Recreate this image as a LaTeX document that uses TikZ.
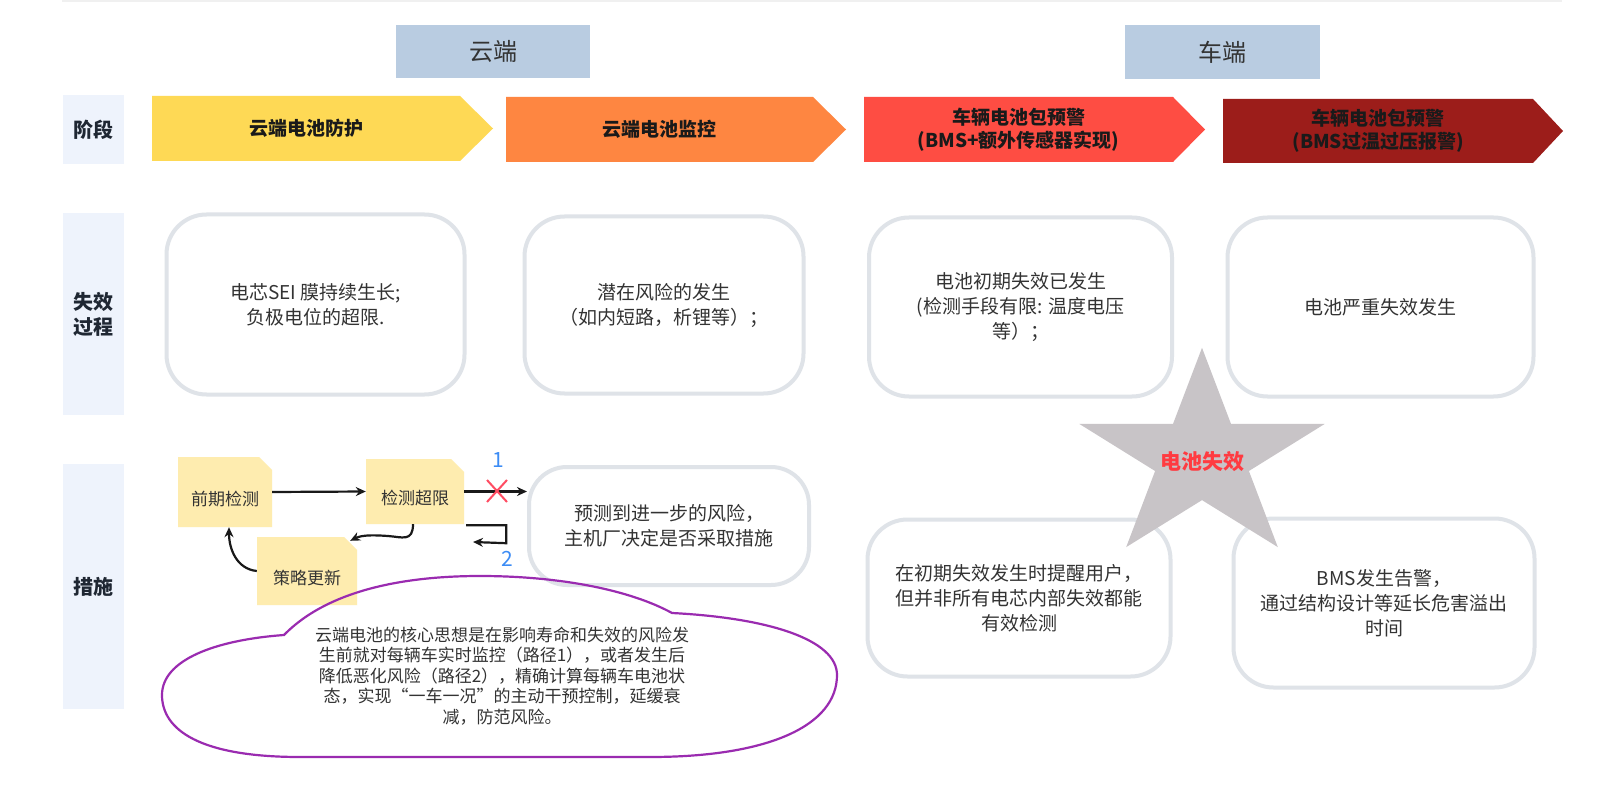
\documentclass[tikz,border=0pt]{standalone}
\usepackage{fontspec}
\setmainfont{Noto Sans CJK SC}
\usetikzlibrary{arrows.meta}
\definecolor{labelfill}{HTML}{EEF3FC}
\definecolor{labeltext}{HTML}{1F2733}
\definecolor{hdrfill}{HTML}{B9CCE1}
\definecolor{textgray}{HTML}{333333}
\definecolor{phasetext}{HTML}{1A1A1A}
\definecolor{cyellow}{HTML}{FED955}
\definecolor{corange}{HTML}{FE8641}
\definecolor{cred}{HTML}{FE4D43}
\definecolor{cdark}{HTML}{9C1D1A}
\definecolor{boxborder}{HTML}{DFE3E8}
\definecolor{notefill}{HTML}{FEECAF}
\definecolor{cpurple}{HTML}{9A2BB0}
\definecolor{cblue}{HTML}{3C8CF5}
\definecolor{xred}{HTML}{FF4D63}
\definecolor{stargray}{HTML}{C8C4C7}
\definecolor{starred}{HTML}{FF3B41}
\definecolor{topline}{HTML}{F0F0F0}
\newcommand{\notetxt}[1]{\raisebox{-13pt}[0pt][0pt]{#1}}
\begin{document}
\begin{tikzpicture}[x=1pt,y=-1pt,
  lbl/.style={fill=labelfill, text=labeltext, font=\bfseries\fontsize{20}{25}\selectfont, align=center, inner sep=0, minimum width=61pt},
  hdr/.style={fill=hdrfill, text=textgray, font=\fontsize{24}{28}\selectfont, inner sep=0},
  phase/.style={text=phasetext, font=\bfseries\fontsize{19}{23}\selectfont, align=center, inner sep=0},
  rbox/.style={draw=boxborder, line width=4pt, rounded corners=40pt, fill=white, align=center, text=textgray, font=\fontsize{19}{25}\selectfont, inner sep=0},
  notebox/.style={inner sep=0, text=textgray, font=\fontsize{17}{20}\selectfont,
    path picture={\fill[notefill] (path picture bounding box.south west) -- (path picture bounding box.north west) -- ([xshift=-13pt]path picture bounding box.north east) -- ([yshift=-13pt]path picture bounding box.north east) -- (path picture bounding box.south east) -- cycle;}},
  arr/.style={draw=black!90, line width=2.2pt, -{Stealth[length=10pt,width=9pt]}},
  num/.style={text=cblue, font=\fontsize{21}{24}\selectfont, inner sep=0}]
\useasboundingbox (0,0) rectangle (1622,802);
\fill[white] (0,0) rectangle (1622,802);
\draw[topline, line width=2pt] (62,1) -- (1562,1);

% headers
\node[hdr, minimum width=194pt, minimum height=53pt] (cloudhdr) at (493,51.5) {云端};
\node[hdr, minimum width=195pt, minimum height=54pt] (carhdr) at (1222.5,52) {车端};

% row labels
\node[lbl, minimum height=69pt] (lab1) at (93.5,129.5) {阶段};
\node[lbl, minimum height=202pt] (lab2) at (93.5,314) {失效\\过程};
\node[lbl, minimum height=245pt] (lab3) at (93.5,586.5) {措施};

% phase chevrons
\fill[cyellow] (152,96) -- (460,96) -- (493,128.5) -- (460,161) -- (152,161) -- cycle;
\fill[corange] (506,97) -- (813,97) -- (846,129.5) -- (813,162) -- (506,162) -- cycle;
\fill[cred] (864,97) -- (1173,97) -- (1205,129.5) -- (1173,162) -- (864,162) -- cycle;
\fill[cdark] (1223,99) -- (1533,99) -- (1563,131) -- (1533,163) -- (1223,163) -- cycle;
\node[phase] (ph1) at (306,128.5) {云端电池防护};
\node[phase] (ph2) at (659.5,129.5) {云端电池监控};
\node[phase] (ph3) at (1018.5,129.5) {车辆电池包预警\\(BMS+额外传感器实现)};
\node[phase] (ph4) at (1378,131) {车辆电池包预警\\(BMS过温过压报警)};

% failure process boxes
\node[rbox, minimum width=298pt, minimum height=180pt] (b1) at (315.5,304.5) {电芯SEI 膜持续生长;\\负极电位的超限.};
\node[rbox, minimum width=279pt, minimum height=177pt] (b2) at (664,305) {潜在风险的发生\\（如内短路，析锂等）；};
\node[rbox, minimum width=303pt, minimum height=179pt] (b3) at (1020.5,307) {电池初期失效已发生\\(检测手段有限: 温度电压\\等）；};
\node[rbox, minimum width=306pt, minimum height=179pt] (b4) at (1380.5,307) {电池严重失效发生};

% measures
\node[notebox, minimum width=94pt, minimum height=70pt] (n1) at (225,492) {\notetxt{前期检测}};
\node[notebox, minimum width=98pt, minimum height=65pt] (n2) at (415,491.5) {\notetxt{检测超限}};
\node[notebox, minimum width=100pt, minimum height=68pt] (n3) at (307,571) {\notetxt{策略更新}};

\node[rbox, rounded corners=38pt, minimum width=280pt, minimum height=118pt] (pred) at (669,526) {预测到进一步的风险，\\主机厂决定是否采取措施};
\node[rbox, minimum width=303pt, minimum height=157pt] (b5) at (1019,598) {在初期失效发生时提醒用户，\\但并非所有电芯内部失效都能\\有效检测};
\node[rbox, minimum width=301pt, minimum height=169pt] (b6) at (1384,603) {BMS发生告警，\\通过结构设计等延长危害溢出\\时间};

\draw[arr] (n1.east) -- (n2.west);
\draw[arr] (n2.east) -- (n2.east -| pred.west);
\coordinate (xc) at (497,491);
\draw[xred, line width=2pt] ([shift={(-10,-11)}]xc) -- ([shift={(10,11)}]xc);
\draw[xred, line width=2pt] ([shift={(10,-11)}]xc) -- ([shift={(-10,11)}]xc);
\node[num] (one) at (498,460) {1};
\coordinate (p2end) at (473,542);
\draw[arr] ([xshift=2pt,yshift=-1pt]n2.south east) -- ++(40,0) -- ++(0,18) -- (p2end);
\node[num] (two) at (507,559) {2};
\draw[arr] ([xshift=-2pt]n2.south) .. controls +(0,18) and +(14,1) .. (388,536) .. controls +(-14,-1) and +(12,-6) .. ([xshift=-7pt,yshift=-4pt]n3.north east);
\draw[arr] (n3.west) .. controls +(-20,-2) and +(0,22) .. ([xshift=4pt]n1.south);

% cloud
\draw[cpurple, line width=2.2pt]
  (284,635) .. controls (330,588) and (410,576) .. (480,576)
  .. controls (560,576) and (630,590) .. (672,613)
  .. controls (770,618) and (837,640) .. (837,675)
  .. controls (837,725) and (770,757) .. (650,757)
  -- (300,757)
  .. controls (200,757) and (162,730) .. (162,695)
  .. controls (162,660) and (215,640) .. (284,635) -- cycle;
\node[align=center, text=textgray, font=\fontsize{17}{20.5}\selectfont, inner sep=0] (cloudtext) at (502,676)
  {云端电池的核心思想是在影响寿命和失效的风险发\\生前就对每辆车实时监控（路径1），或者发生后\\降低恶化风险（路径2），精确计算每辆车电池状\\态，实现“一车一况”的主动干预控制，延缓衰\\减，防范风险。};

% star
\fill[stargray] (1202,347.8) -- (1231,423.9) -- (1324.7,423.9) -- (1248.9,471) -- (1277.8,547.1)
  -- (1202,500.1) -- (1126.2,547.1) -- (1155.1,471) -- (1079.3,423.9) -- (1173,423.9) -- cycle;
\node[text=starred, font=\bfseries\fontsize{21}{24}\selectfont, inner sep=0] (startext) at (1202,462) {电池失效};
\end{tikzpicture}
\end{document}
